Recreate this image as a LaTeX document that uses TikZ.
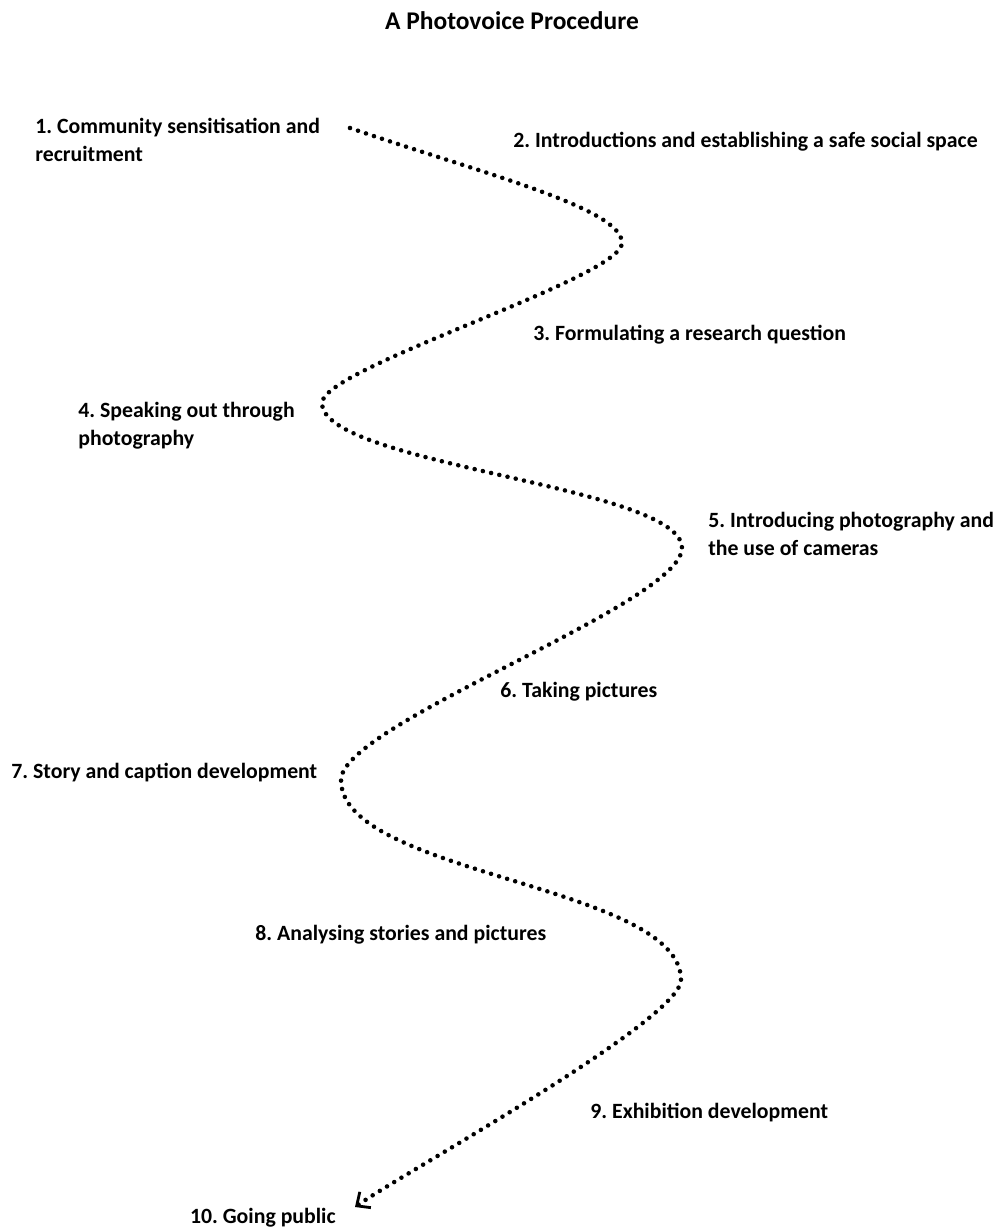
\documentclass[tikz,border=0pt]{standalone}
\usepackage{fontspec}
\setmainfont{Carlito}
\usetikzlibrary{arrows.meta}

\begin{document}
\frenchspacing
\begin{tikzpicture}[x=0.02cm,y=0.02cm]
    \tikzset{StepStyle/.style={font=\bfseries\fontsize{12.4}{16}\selectfont,
        align=left, anchor=west, inner sep=0pt}}
    \tikzset{TrailStyle/.style={line width=2.6pt, line cap=round,
        dash pattern=on 0pt off 4.8pt,
        -{Straight Barb[length=6pt,width=11pt,line width=1.6pt]}}}
    \useasboundingbox (0,0) rectangle (997,1228);
    \node[StepStyle, anchor=center,
        font=\bfseries\fontsize{14.5}{16}\selectfont] (title) at (512,1207) {A Photovoice Procedure};
    \node[StepStyle] (s1) at (35,1088) {1. Community sensitisation and\\recruitment};
    \node[StepStyle] (s2) at (513,1086) {2. Introductions and establishing a safe social space};
    \node[StepStyle] (s3) at (533,893) {3. Formulating a research question};
    \node[StepStyle] (s4) at (78,802) {4. Speaking out through\\photography};
    \node[StepStyle] (s5) at (708,694) {5. Introducing photography and\\the use of cameras};
    \node[StepStyle] (s6) at (500,536) {6. Taking pictures};
    \node[StepStyle] (s7) at (11,455) {7. Story and caption development};
    \node[StepStyle] (s8) at (255,293) {8. Analysing stories and pictures};
    \node[StepStyle] (s9) at (590,115) {9. Exhibition development};
    \node[StepStyle, anchor=east] (s10) at (336,10) {10. Going public};
    \coordinate (start) at (350,1100);
    \coordinate (t1) at (622,985);
    \coordinate (t2) at (322,825);
    \coordinate (t3) at (682,680);
    \coordinate (t4) at (341,448);
    \coordinate (t5) at (681,248);
    \coordinate (end) at (355,21);
    \draw[TrailStyle] (start) .. controls +(-19:140) and +(90:35) .. (t1)
        .. controls +(270:35) and +(90:35) .. (t2)
        .. controls +(270:62) and +(90:62) .. (t3)
        .. controls +(270:56) and +(90:56) .. (t4)
        .. controls +(270:95) and +(90:95) .. (t5)
        .. controls +(270:40) and +(35:60) .. (end);
\end{tikzpicture}
\end{document}
